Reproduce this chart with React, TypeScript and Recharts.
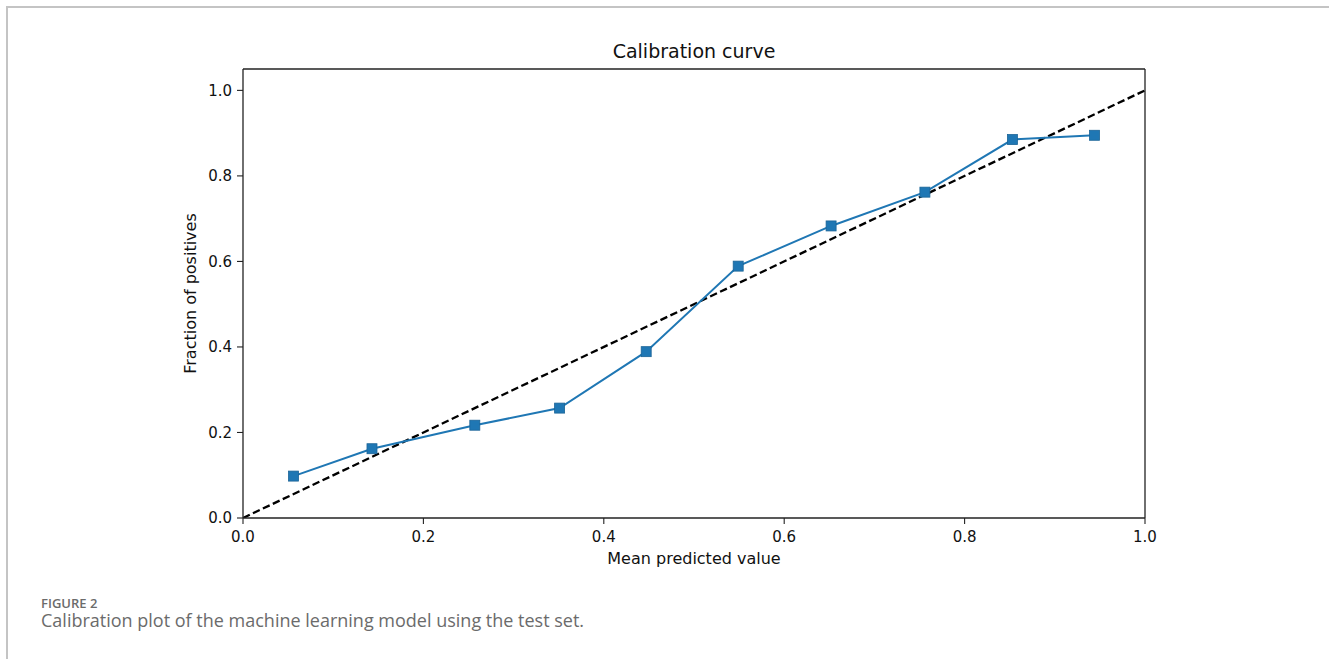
import { LineChart, Line, XAxis, YAxis, ReferenceLine, Label } from "recharts";

// mean predicted value per bin (x) and observed fraction of positives (y)
const meanPredicted = [0.056, 0.143, 0.257, 0.351, 0.447, 0.549, 0.652, 0.756, 0.853, 0.944];
const fractionPositives = [0.098, 0.162, 0.217, 0.257, 0.389, 0.589, 0.683, 0.762, 0.885, 0.895];

// perfectly calibrated reference
const diagonalX = [0, 1];
const diagonalY = [0, 1];

const xTicks = [0, 0.2, 0.4, 0.6, 0.8, 1.0];
const yTicks = [0, 0.2, 0.4, 0.6, 0.8, 1.0];

const curveData = meanPredicted.map((x, i) => ({ x, y: fractionPositives[i] }));
const diagonalData = diagonalX.map((x, i) => ({ x, y: diagonalY[i] }));

const BLUE = "#1f77b4";
const FONT = "'DejaVu Sans', sans-serif";
const CAPTION_FONT = "'Open Sans', Lato, sans-serif";

const SquareDot = (props: any) => {
  const { cx, cy } = props;
  if (cx == null || cy == null) return null;
  const s = 10;
  return (
    <rect
      x={cx - s / 2}
      y={cy - s / 2}
      width={s}
      height={s}
      fill={BLUE}
      stroke="#1b6497"
      strokeWidth={0.8}
    />
  );
};

const tickStyle = { fill: "#111", fontSize: 15, fontFamily: FONT };

export default function App() {
  return (
    <div style={{ position: "absolute", left: 0, top: 0, width: 1329, height: 659, background: "#fff", overflow: "hidden" }}>
      {/* page frame */}
      <div
        style={{
          position: "absolute",
          left: 6,
          top: 6,
          width: 1323,
          height: 653,
          borderTop: "2px solid #c4c4c4",
          borderLeft: "2px solid #c4c4c4",
        }}
      />
      <div
        style={{
          position: "absolute",
          left: 243,
          width: 902,
          top: 42,
          textAlign: "center",
          fontFamily: FONT,
          fontSize: 19,
          lineHeight: "19px",
          color: "#111",
        }}
      >
        Calibration curve
      </div>
      <div style={{ position: "absolute", left: 0, top: 0 }}>
        <LineChart
          width={1329}
          height={659}
          margin={{ top: 69, right: 184, bottom: 111, left: 183 }}
        >
          <XAxis
            type="number"
            dataKey="x"
            domain={[0, 1]}
            ticks={xTicks}
            tickFormatter={(v: number) => v.toFixed(1)}
            tick={tickStyle}
            tickSize={6}
            tickMargin={7}
            height={30}
            stroke="#222"
            axisLine={{ stroke: "#222", strokeWidth: 1.3 }}
            tickLine={{ stroke: "#222", strokeWidth: 1.1 }}
            allowDataOverflow
          >
            <Label
              value="Mean predicted value"
              position="bottom"
              offset={5}
              style={{ fill: "#111", fontSize: 16, fontFamily: FONT }}
            />
          </XAxis>
          <YAxis
            type="number"
            dataKey="y"
            domain={[0, 1.05]}
            ticks={yTicks}
            tickFormatter={(v: number) => v.toFixed(1)}
            tick={tickStyle}
            tickSize={6}
            tickMargin={5}
            width={60}
            axisLine={{ stroke: "#222", strokeWidth: 1.3 }}
            tickLine={{ stroke: "#222", strokeWidth: 1.1 }}
            allowDataOverflow
          >
            <Label
              value="Fraction of positives"
              angle={-90}
              position="insideLeft"
              offset={7}
              style={{ fill: "#111", fontSize: 16, fontFamily: FONT, textAnchor: "middle" }}
            />
          </YAxis>
          <ReferenceLine y={1.05} stroke="#222" strokeWidth={1.3} ifOverflow="visible" />
          <ReferenceLine x={1} stroke="#222" strokeWidth={1.3} ifOverflow="visible" />
          <Line
            data={diagonalData}
            dataKey="y"
            type="linear"
            stroke="#000"
            strokeWidth={2.3}
            strokeDasharray="7.5 3.5"
            dot={false}
            activeDot={false}
            isAnimationActive={false}
          />
          <Line
            data={curveData}
            dataKey="y"
            type="linear"
            stroke={BLUE}
            strokeWidth={2}
            dot={<SquareDot />}
            activeDot={false}
            isAnimationActive={false}
          />
        </LineChart>
      </div>
      <div
        style={{
          position: "absolute",
          left: 41,
          top: 597,
          fontFamily: CAPTION_FONT,
          fontSize: 13,
          lineHeight: "12px",
          fontWeight: 600,
          color: "#6b6b6b",
        }}
      >
        FIGURE 2
      </div>
      <div
        style={{
          position: "absolute",
          left: 41,
          top: 612,
          fontFamily: CAPTION_FONT,
          fontSize: 18,
          lineHeight: "16px",
          color: "#6b6b6b",
          whiteSpace: "nowrap",
        }}
      >
        Calibration plot of the machine learning model using the test set.
      </div>
    </div>
  );
}
